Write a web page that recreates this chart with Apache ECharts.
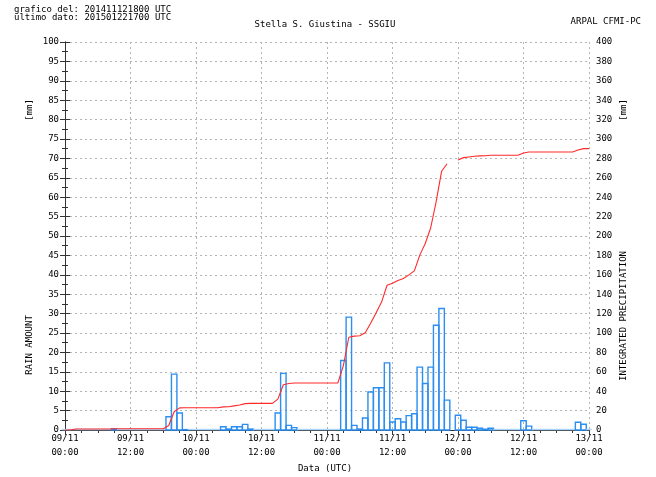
<!DOCTYPE html>
<html>
<head>
<meta charset="utf-8">
<script src="https://cdn.jsdelivr.net/npm/echarts@6/dist/echarts.min.js"></script>
<style>
  html, body { margin: 0; padding: 0; background: #fff; }
  #chart { width: 656px; height: 477px; }
</style>
</head>
<body>
<div id="chart"></div>
<script>
// Hourly rain amount (mm) from 09/11 00:00 UTC, hour index 0..96; null = no data
const rainHourly = [
  0, 0, 0, 0, 0, 0, 0, 0, 0, 0.3,
  0, 0, 0, 0, 0, 0, 0, 0, 0, 3.4,
  14.4, 4.4, 0.1, 0, 0, 0, 0, 0, 0, 0.85,
  0.25, 0.85, 0.85, 1.45, 0.25, 0, 0, 0, 0, 4.4,
  14.6, 1.2, 0.6, 0, 0, 0, 0, 0, 0, 0,
  0, 17.9, 29.1, 1.2, 0.25, 3.1, 9.8, 10.9, 10.9, 17.3,
  2.05, 2.9, 2.05, 3.7, 4.2, 16.2, 12.0, 16.2, 27.0, 31.3,
  7.7, null, 3.8, 2.5, 0.7, 0.7, 0.45, 0.2, 0.45, 0,
  0, 0, 0, 0, 2.4, 1.0, 0, 0, 0, 0,
  0, 0, 0, 0, 2.0, 1.5, 0
];

// Integrated precipitation (mm), same hourly index; null = gap in the record
const integrated = [
  0, 0, 1, 1, 1, 1, 1, 1, 1, 1.3,
  1.3, 1.3, 1.3, 1.3, 1.3, 1.3, 1.3, 1.3, 1.3, 4.6,
  18.8, 22.8, 22.9, 22.9, 22.9, 22.9, 22.9, 22.9, 22.9, 23.8,
  24.0, 24.9, 25.7, 27.2, 27.4, 27.4, 27.4, 27.4, 27.4, 31.8,
  46.6, 47.9, 48.5, 48.5, 48.5, 48.5, 48.5, 48.5, 48.5, 48.5,
  48.5, 66.4, 95.6, 96.8, 97.2, 100.3, 110.1, 121.0, 131.9, 149.2,
  151.3, 154.2, 156.2, 159.9, 164.1, 180.3, 192.3, 208.5, 235.5, 266.8,
  274.5, null, 278.3, 280.8, 281.5, 282.2, 282.6, 282.8, 283.2, 283.2,
  283.2, 283.2, 283.2, 283.2, 285.6, 286.6, 286.6, 286.6, 286.6, 286.6,
  286.6, 286.6, 286.6, 286.6, 288.6, 290.1, 290.1
];

// Time axis tick labels every 12 hours
const tickDates = ['09/11', '09/11', '10/11', '10/11', '11/11', '11/11', '12/11', '12/11', '13/11'];
const tickTimes = ['00:00', '12:00', '00:00', '12:00', '00:00', '12:00', '00:00', '12:00', '00:00'];

const FONT = 'DejaVu Sans Mono';
const chart = echarts.init(document.getElementById('chart'), null, { renderer: 'canvas' });

const barData = rainHourly.map((v, h) => [h, v == null ? '-' : v]);
const lineData = integrated.map((v, h) => [h, v == null ? '-' : v]);

const gridLine = { show: true, lineStyle: { color: '#b4b4b4', type: [2, 3], width: 1 } };
const axisLineStyle = { show: true, lineStyle: { color: '#333', width: 1 } };

chart.setOption({
  animation: false,
  backgroundColor: '#ffffff',
  grid: { left: 65, right: 67, top: 42, bottom: 47, containLabel: false },
  xAxis: [
    {
      type: 'value', min: 0, max: 96, interval: 12, position: 'bottom',
      axisLine: axisLineStyle,
      axisTick: { show: true, length: 5, lineStyle: { color: '#333' } },
      minorTick: { show: true, splitNumber: 4, length: 3, lineStyle: { color: '#333' } },
      splitLine: gridLine,
      axisLabel: {
        fontFamily: FONT, fontSize: 9, color: '#000', margin: 2, lineHeight: 14,
        formatter: v => { const i = Math.round(v / 12); return tickDates[i] + '\n' + tickTimes[i]; }
      }
    },
    {
      type: 'value', min: 0, max: 96, interval: 12, position: 'top',
      axisLine: axisLineStyle,
      axisTick: { show: true, inside: true, length: 5, lineStyle: { color: '#333' } },
      minorTick: { show: true, splitNumber: 4, length: 3, lineStyle: { color: '#333' } },
      splitLine: { show: false },
      axisLabel: { show: false }
    }
  ],
  yAxis: [
    {
      type: 'value', min: 0, max: 100, interval: 5, position: 'left',
      axisLine: axisLineStyle,
      axisTick: { show: true, length: 5, lineStyle: { color: '#333' } },
      minorTick: { show: true, splitNumber: 2, length: 3, lineStyle: { color: '#333' } },
      splitLine: gridLine,
      axisLabel: { fontFamily: FONT, fontSize: 9, color: '#000', margin: 6 }
    },
    {
      type: 'value', min: 0, max: 400, interval: 20, position: 'right',
      axisLine: axisLineStyle,
      axisTick: { show: true, length: 5, lineStyle: { color: '#333' } },
      minorTick: { show: true, splitNumber: 2, length: 3, lineStyle: { color: '#333' } },
      splitLine: { show: false },
      axisLabel: { fontFamily: FONT, fontSize: 9, color: '#000', margin: 7 }
    }
  ],
  graphic: [
    { type: 'text', left: 14, top: 5, style: { text: 'grafico del: 201411121800 UTC\nultimo dato: 201501221700 UTC', font: '9px ' + FONT, fill: '#000', lineHeight: 8 } },
    { type: 'text', x: 325, y: 25, style: { text: 'Stella S. Giustina - SSGIU', font: '9px ' + FONT, fill: '#000', align: 'center', verticalAlign: 'middle' } },
    { type: 'text', x: 641, y: 22, style: { text: 'ARPAL CFMI-PC', font: '9px ' + FONT, fill: '#000', align: 'right', verticalAlign: 'middle' } },
    { type: 'text', x: 325, y: 469, style: { text: 'Data (UTC)', font: '9px ' + FONT, fill: '#000', align: 'center', verticalAlign: 'middle' } },
    { type: 'text', x: 30, y: 110, rotation: Math.PI / 2, style: { text: '[mm]', font: '9px ' + FONT, fill: '#000', align: 'center', verticalAlign: 'middle' } },
    { type: 'text', x: 30, y: 345, rotation: Math.PI / 2, style: { text: 'RAIN AMOUNT', font: '9px ' + FONT, fill: '#000', align: 'center', verticalAlign: 'middle' } },
    { type: 'text', x: 624, y: 110, rotation: Math.PI / 2, style: { text: '[mm]', font: '9px ' + FONT, fill: '#000', align: 'center', verticalAlign: 'middle' } },
    { type: 'text', x: 624, y: 316, rotation: Math.PI / 2, style: { text: 'INTEGRATED PRECIPITATION', font: '9px ' + FONT, fill: '#000', align: 'center', verticalAlign: 'middle' } }
  ],
  series: [
    {
      name: 'rain', type: 'custom', xAxisIndex: 0, yAxisIndex: 0,
      encode: { x: 0, y: 1 },
      data: barData,
      z: 3,
      renderItem: (params, api) => {
        const h = api.value(0);
        const v = api.value(1);
        if (isNaN(v)) return null;
        const p0 = api.coord([h - 0.5, v]);
        const p1 = api.coord([h + 0.5, 0]);
        if (v === 0) {
          return {
            type: 'line',
            shape: { x1: p0[0], y1: p1[1] - 0.5, x2: p1[0], y2: p1[1] - 0.5 },
            style: { stroke: '#a8d4fb', lineWidth: 1.5 }
          };
        }
        return {
          type: 'rect',
          shape: { x: p0[0], y: p0[1], width: p1[0] - p0[0], height: p1[1] - p0[1] },
          style: { fill: 'rgba(255,255,255,0)', stroke: '#2b8ef0', lineWidth: 1.4 }
        };
      }
    },
    {
      name: 'integrated', type: 'line', xAxisIndex: 0, yAxisIndex: 1,
      data: lineData, showSymbol: false, connectNulls: false, z: 4,
      lineStyle: { color: '#ff2a2a', width: 1.1 }
    }
  ]
});
</script>
</body>
</html>
